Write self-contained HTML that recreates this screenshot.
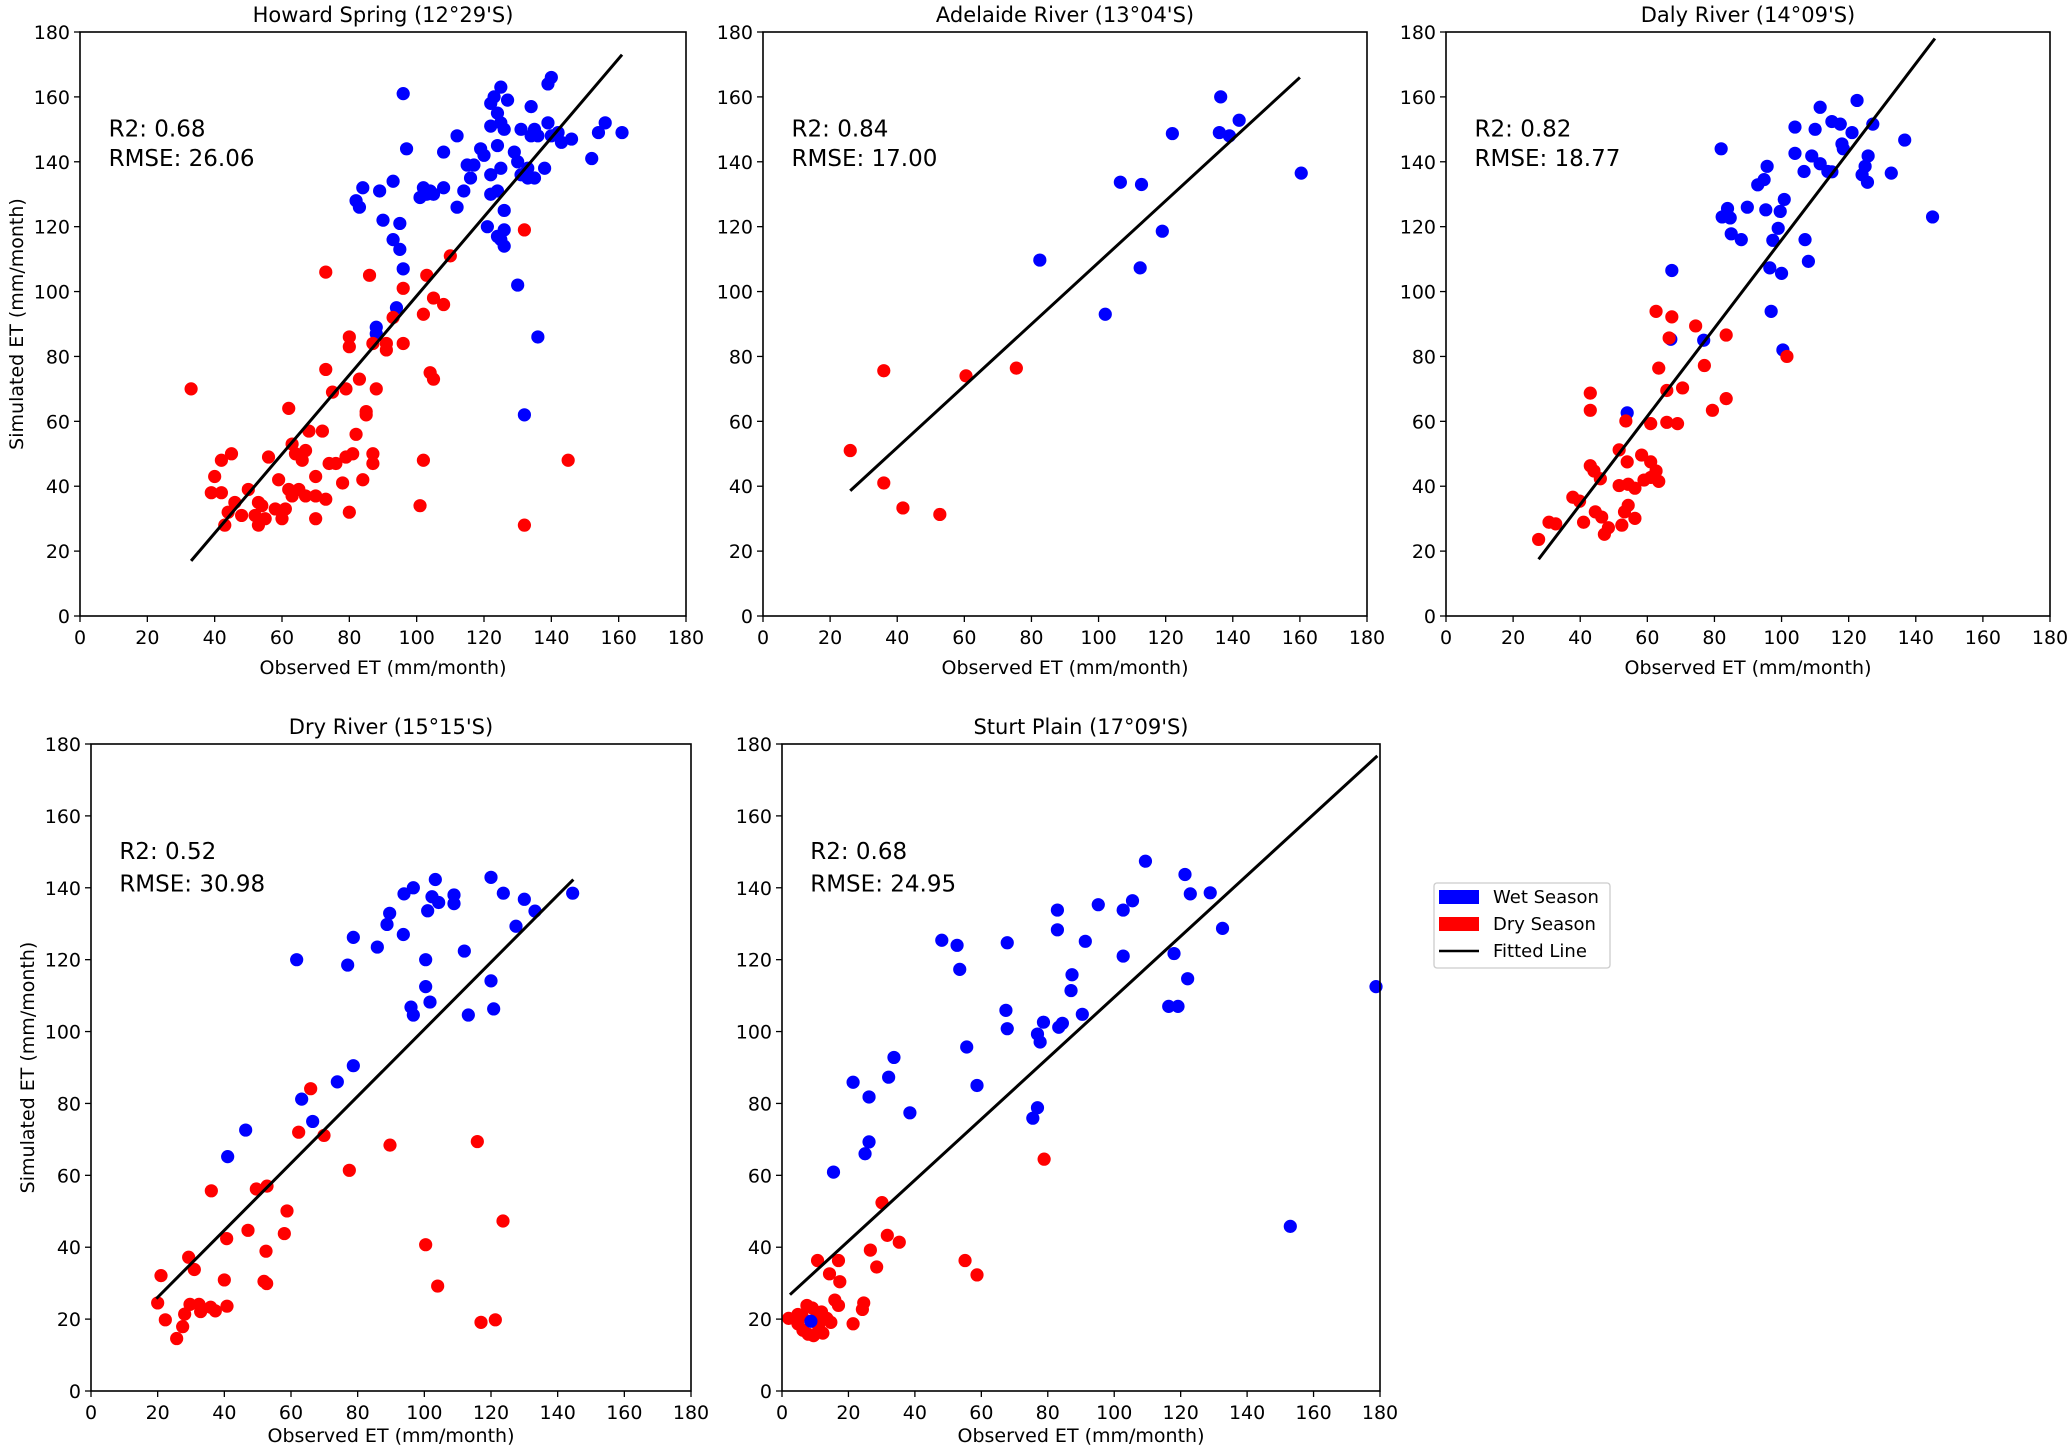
<!DOCTYPE html>
<html><head><meta charset="utf-8">
<style>
body{margin:0;background:#fff;}
svg{display:block;font-family:"DejaVu Sans","Liberation Sans",sans-serif;}
</style></head>
<body>
<svg id="fig" width="2067" height="1447" viewBox="0 0 2067 1447" xmlns="http://www.w3.org/2000/svg">
<rect width="2067" height="1447" fill="#fff"/>
<g>
<rect x="1434" y="883" width="176" height="85" rx="3" fill="#fff" stroke="#ccc" stroke-width="1.3"/>
<rect x="1439" y="890" width="40" height="14" fill="#0000ff"/>
<text x="1493" y="903" font-size="18">Wet Season</text>
<rect x="1439" y="917" width="40" height="14" fill="#ff0000"/>
<text x="1493" y="930" font-size="18">Dry Season</text>
<line x1="1439" y1="951" x2="1479" y2="951" stroke="#000" stroke-width="2.5"/>
<text x="1493" y="957" font-size="18">Fitted Line</text>
</g>
</svg>
<script>
const xTicks = [0,20,40,60,80,100,120,140,160,180];
const yTicks = [0,20,40,60,80,100,120,140,160,180];
const titles = ["Howard Spring (12°29'S)","Adelaide River (13°04'S)","Daly River (14°09'S)","Dry River (15°15'S)","Sturt Plain (17°09'S)"];
const r2Values = ["0.68","0.84","0.82","0.52","0.68"];
const rmseValues = ["26.06","17.00","18.77","30.98","24.95"];
const howardWet = [[96,161],[97,144],[82,128],[84,132],[83,126],[89,131],[90,122],[93,134],[93,116],[95,121],[95,113],[96,107],[94,95],[88,89],[88,87],[101,129],[102,132],[103,130],[104,131],[105,130],[108,132],[108,143],[112,126],[112,148],[114,131],[115,139],[116,135],[117,139],[119,144],[120,142],[121,120],[122,130],[122,136],[122,151],[122,158],[123,160],[124,145],[124,131],[124,117],[125,116],[126,114],[126,119],[126,125],[125,138],[125,152],[125,163],[126,150],[127,159],[124,155],[129,143],[130,140],[131,150],[133,135],[133,138],[134,148],[134,157],[135,135],[135,150],[136,148],[138,138],[139,152],[139,164],[140,166],[140,148],[142,149],[143,146],[146,147],[152,141],[154,149],[156,152],[161,149],[130,102],[136,86],[132,62],[131,136]];
const howardDry = [[33,70],[73,106],[86,105],[96,101],[103,105],[110,111],[132,119],[105,98],[108,96],[102,93],[93,92],[91,84],[91,82],[96,84],[87,84],[80,86],[80,83],[73,76],[83,73],[75,69],[79,70],[88,70],[62,64],[85,63],[85,62],[68,57],[72,57],[82,56],[63,53],[64,50],[67,51],[66,48],[56,49],[42,48],[45,50],[79,49],[81,50],[87,50],[87,47],[76,47],[74,47],[102,48],[145,48],[40,43],[59,42],[70,43],[78,41],[84,42],[39,38],[42,38],[50,39],[62,39],[63,37],[65,39],[67,37],[70,37],[73,36],[46,35],[53,35],[54,34],[58,33],[61,33],[44,32],[48,31],[52,31],[55,30],[43,28],[53,28],[60,30],[70,30],[80,32],[101,34],[132,28],[104,75],[105,73]];
const howardLine = [[33,17],[161,173]];
const adelaideWet = [[136.4,160],[141.9,152.8],[139,148],[136,149],[160.4,136.5],[122,148.7],[106.5,133.7],[112.8,133],[119,118.6],[112.4,107.3],[102,93],[82.5,109.7]];
const adelaideDry = [[26,51],[36,75.6],[60.5,74],[75.5,76.4],[36,41],[41.7,33.3],[52.7,31.3]];
const adelaideLine = [[26,38.6],[160,166]];
const dalyWet = [[111.5,156.8],[122.5,158.9],[115,152.4],[117.5,151.6],[104,150.7],[127.2,151.6],[110,150],[121,149],[118.4,144],[118,145.5],[82,144],[109,141.8],[104,142.6],[111.5,139.4],[115,136.9],[125.8,141.8],[124.9,138.6],[124,136],[132.7,136.5],[136.7,146.7],[125.6,133.7],[113.8,137],[106.7,137],[95.7,138.6],[94.8,134.5],[92.9,132.9],[100.8,128.4],[99.6,124.7],[95.3,125.2],[89.8,126],[83.9,125.6],[82.3,123],[84.7,122.7],[85,117.8],[88,116],[107,116],[99,119.5],[97.4,115.8],[108,109.3],[96.5,107.3],[100,105.6],[67.3,106.5],[96.9,93.9],[100.4,82],[76.8,85],[67,85.3],[145,123],[54,62.6]];
const dalyDry = [[101.6,80],[62.6,93.9],[67.3,92.2],[74.4,89.4],[83.5,86.6],[66.5,85.7],[70.5,70.3],[65.8,69.5],[63.4,76.4],[77,77.2],[79.4,63.4],[83.5,67],[43,68.7],[43,63.4],[53.6,60.1],[61,59.3],[65.8,59.7],[69,59.3],[51.6,51.2],[58.3,49.6],[54,47.5],[61,47.5],[62.6,44.7],[61,42.7],[63.4,41.5],[59,41.9],[43,46.3],[44.1,44.7],[46,42.3],[56.3,39.4],[51.6,40.2],[54.3,40.6],[37.8,36.6],[39.8,35.4],[41,28.9],[44.5,32.1],[46.4,30.5],[48.4,27.2],[47.2,25.2],[52.4,28],[54.3,34.1],[56.3,30.1],[53.2,32.1],[32.7,28.4],[30.7,28.9],[27.6,23.6]];
const dalyLine = [[27.6,17.5],[145.7,178]];
const dryWet = [[61.7,120],[77,118.5],[78.7,126.2],[85.9,123.5],[88.8,129.8],[89.6,132.9],[93.7,127],[93.9,138.3],[96.7,140],[103.3,142.3],[102.3,137.5],[104.3,135.9],[101,133.6],[108.9,138],[108.9,135.6],[100.4,120],[100.4,112.5],[101.7,108.2],[96,106.8],[96.7,104.6],[112,122.4],[113.2,104.6],[120,142.9],[123.7,138.5],[130,136.8],[133.2,133.5],[127.5,129.3],[120,114.1],[120.8,106.3],[144.5,138.5],[78.7,90.5],[73.9,86],[63.2,81.2],[66.5,75],[46.4,72.6],[41,65.2]];
const dryDry = [[65.9,84.1],[62.3,72],[69.9,71.1],[89.7,68.4],[115.9,69.4],[77.5,61.4],[36.1,55.7],[49.6,56.2],[52.8,57],[58.8,50.1],[58,43.8],[47.1,44.7],[40.7,42.4],[123.6,47.3],[100.4,40.7],[52.5,38.9],[29.3,37.2],[31,33.8],[21,32.1],[40,30.9],[51.9,30.5],[52.7,29.9],[104,29.2],[20,24.5],[29.7,24.1],[32.4,24.1],[35.9,23.3],[37.3,22.3],[32.9,22.1],[40.8,23.6],[28.1,21.4],[22.3,19.8],[27.5,17.9],[25.7,14.6],[117,19.1],[121.3,19.8]];
const dryLine = [[19.6,25.7],[144.7,142.3]];
const sturtDry = [[78.9,64.5],[30.1,52.4],[31.7,43.3],[35.3,41.4],[55.1,36.3],[58.7,32.3],[26.6,39.2],[28.5,34.5],[17,36.3],[17.4,30.4],[10.7,36.3],[14.3,32.6],[24.6,24.5],[24.2,22.7],[21.4,18.7],[2,20.2],[4.8,18.7],[6.3,16.9],[7.9,15.8],[9.5,15.4],[11.9,22],[13.5,20.2],[17,23.8],[15.9,25.3],[7.5,23.8],[4.8,21.3],[9.1,23.1],[14.7,19.1],[12.3,16.1],[10,20],[6,21],[11,18]];
const sturtWet = [[109.4,147.4],[121.3,143.7],[128.9,138.6],[122.9,138.3],[105.5,136.4],[102.7,133.8],[95.2,135.3],[82.9,133.8],[82.9,128.3],[132.6,128.7],[91.3,125.1],[67.8,124.7],[48.1,125.4],[52.7,124],[53.5,117.3],[102.7,121],[118,121.7],[122.1,114.7],[87.3,115.8],[87,111.4],[90.4,104.8],[119.2,107],[116.4,107],[83.3,101.2],[84.4,102.3],[78.7,102.6],[77.7,97.1],[67.4,105.9],[67.8,100.8],[55.6,95.7],[58.7,85],[76.9,99.3],[76.9,78.8],[75.5,75.9],[178.8,112.5],[153,45.8],[33.7,92.8],[32.1,87.3],[21.4,85.9],[26.2,81.8],[38.5,77.4],[26.2,69.3],[25,66],[15.5,60.9],[8.7,19.4]];
const sturtLine = [[2.4,26.8],[179.2,176.7]];

const NS = "http://www.w3.org/2000/svg";
const svg = document.getElementById('fig');
const panels = [
  {key:'howard', box:[80,32,686,616], wet:howardWet, dry:howardDry, line:howardLine, ylab:true, xlOff:58},
  {key:'adelaide', box:[763,32,1367,616], wet:adelaideWet, dry:adelaideDry, line:adelaideLine, ylab:false, xlOff:58},
  {key:'daly', box:[1446,32,2050,616], wet:dalyWet, dry:dalyDry, line:dalyLine, ylab:false, xlOff:58},
  {key:'dry-river', box:[91,744,691,1391], wet:dryWet, dry:dryDry, line:dryLine, ylab:true, xlOff:51},
  {key:'sturt', box:[782,744,1380,1391], wet:sturtWet, dry:sturtDry, line:sturtLine, ylab:false, dryFirst:true, xlOff:51}
];
function mk(tag, attrs, parent){
  const e = document.createElementNS(NS, tag);
  for (const k in attrs) e.setAttribute(k, attrs[k]);
  parent.appendChild(e);
  return e;
}
panels.forEach((p, i) => {
  const [x0,y0,x1,y1] = p.box;
  const sx = v => x0 + (v/180)*(x1-x0);
  const sy = v => y1 - (v/180)*(y1-y0);
  const g = mk('g', {}, svg);
  
  
  const t = mk('text', {x:(x0+x1)/2, y:y0-10, 'font-size':21, 'text-anchor':'middle'}, g);
  t.textContent = titles[i];
  
  
  xTicks.forEach(v => {
    const X = sx(v);
    mk('line', {x1:X, x2:X, y1:y1, y2:y1+6, stroke:'#000', 'stroke-width':1.3}, g);
    const tl = mk('text', {x:X, y:y1+28, 'font-size':19, 'text-anchor':'middle'}, g);
    tl.textContent = v;
    
    
  });
  yTicks.forEach(v => {
    const Y = sy(v);
    mk('line', {x1:x0-6, x2:x0, y1:Y, y2:Y, stroke:'#000', 'stroke-width':1.3}, g);
    const tl = mk('text', {x:x0-10, y:Y+7, 'font-size':19, 'text-anchor':'end'}, g);
    tl.textContent = v;
    
    
  });
  const xl = mk('text', {x:(x0+x1)/2, y:y1+p.xlOff, 'font-size':19, 'text-anchor':'middle'}, g);
  xl.textContent = 'Observed ET (mm/month)';
  
  
  if (p.ylab) {
    const cy = (y0+y1)/2, cx = i===0 ? 17 : 28;
    const yl = mk('text', {x:cx, y:cy, 'font-size':19, 'text-anchor':'middle', transform:`rotate(-90 ${cx} ${cy})`, 'dominant-baseline':'central'}, g);
    yl.textContent = 'Simulated ET (mm/month)';
    
    
  }
  const drawSet = (arr, color, nm) => arr.forEach(d => {
    const c = mk('circle', {cx:sx(d[0]), cy:sy(d[1]), r:6.6, fill:color}, g);
    
    
  });
  if (p.dryFirst) { drawSet(p.dry,'#ff0000','dry-point'); drawSet(p.wet,'#0000ff','wet-point'); }
  else { drawSet(p.wet,'#0000ff','wet-point'); drawSet(p.dry,'#ff0000','dry-point'); }
  const ln = mk('line', {x1:sx(p.line[0][0]), y1:sy(p.line[0][1]), x2:sx(p.line[1][0]), y2:sy(p.line[1][1]), stroke:'#000', 'stroke-width':3}, g);
  
  
  const r2 = mk('text', {x:sx(8.5), y:sy(150.5)+9, 'font-size':23}, g);
  r2.textContent = 'R2: ' + r2Values[i];
  
  
  const rm = mk('text', {x:sx(8.5), y:sy(141.5)+9, 'font-size':23}, g);
  rm.textContent = 'RMSE: ' + rmseValues[i];
  
  
  const fr = mk('rect', {x:x0, y:y0, width:x1-x0, height:y1-y0, fill:'none', stroke:'#000', 'stroke-width':1.6}, g);
  
  
});
</script>
</body></html>
